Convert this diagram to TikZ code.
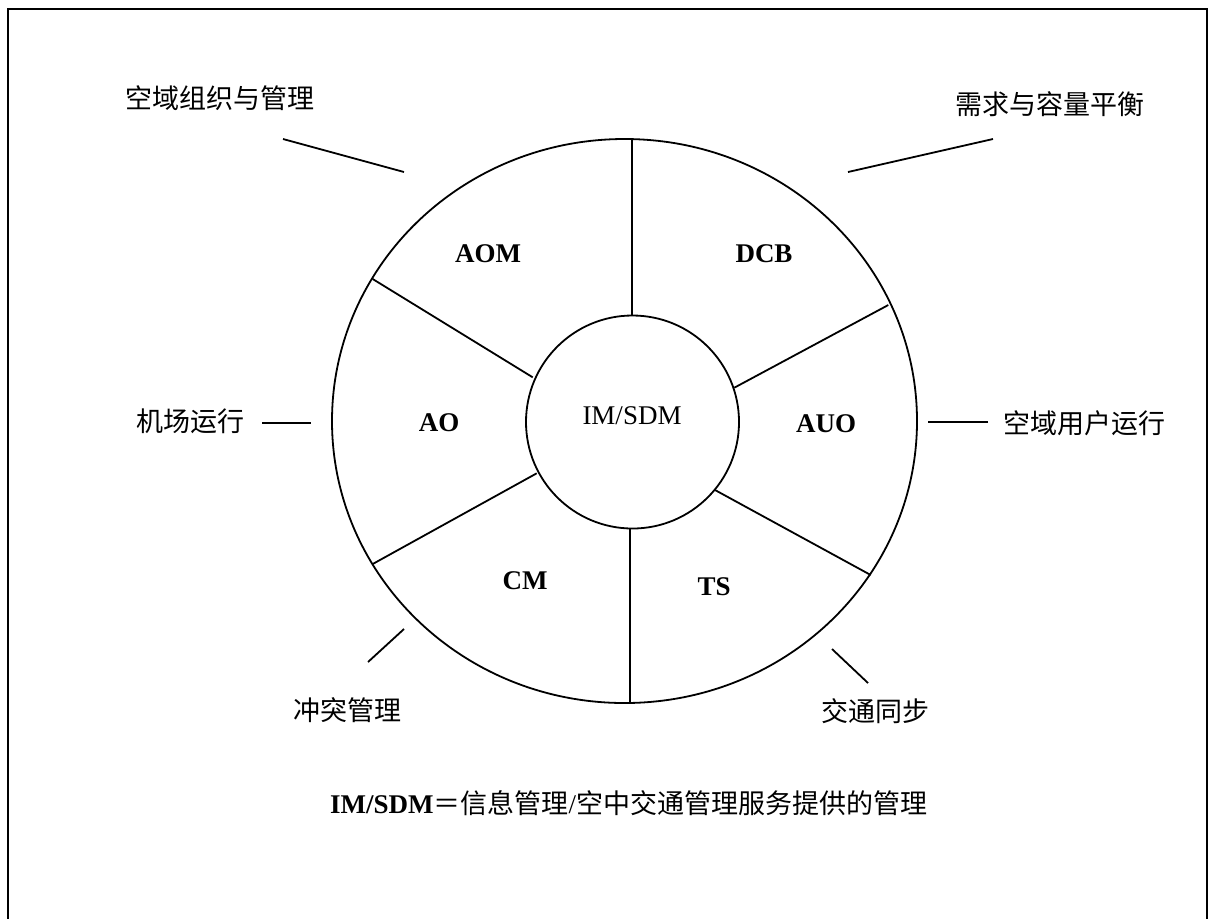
\documentclass[tikz,border=0pt]{standalone}
\usepackage{fontspec}
\setmainfont{Liberation Serif}
\newfontfamily\cjk{Noto Sans CJK SC}
\begin{document}
\begin{tikzpicture}[x=0.5pt,y=-0.5pt,
  ln/.style={line width=0.9pt, black},
  seglbl/.style={font=\fontsize{13.5}{16}\selectfont\bfseries, inner sep=0pt},
  arealbl/.style={font=\fontsize{13.5}{16}\selectfont\cjk, inner sep=0pt}]
\useasboundingbox (0,0) rectangle (1213,918);
\clip (0,0) rectangle (1213,918);
% frame
\draw[line width=1.1pt] (8,940) -- (8,9) -- (1207,9) -- (1207,940);
% outer ring
\draw[ln] (624.5,421) ellipse [x radius=146.25pt, y radius=141pt];
% core
\node[ln, draw, circle, minimum size=106.5pt, inner sep=0pt] (core) at (632.5,422) {};
\node[font=\fontsize{13.5}{16}\selectfont, inner sep=0pt] (imsdm) at (632,415.5) {IM/SDM};
% spoke ends
\coordinate (oT) at (632,139);   \coordinate (iT) at (632,315.5);
\coordinate (oUL) at (372.7,279); \coordinate (iUL) at (532.7,377.3);
\coordinate (oLL) at (372.7,564); \coordinate (iLL) at (536.7,473.3);
\coordinate (oUR) at (888.3,305); \coordinate (iUR) at (734.3,387.7);
\coordinate (oLR) at (870.7,575); \coordinate (iLR) at (715,490);
\coordinate (oB) at (630,703);   \coordinate (iB) at (630,528.5);
\draw[ln] (oT) -- (iT);
\draw[ln] (oUL) -- (iUL);
\draw[ln] (oLL) -- (iLL);
\draw[ln] (oUR) -- (iUR);
\draw[ln] (oLR) -- (iLR);
\draw[ln] (oB) -- (iB);
% segment labels
\node[seglbl] (aom) at (488,254) {AOM};
\node[seglbl] (dcb) at (764,254) {DCB};
\node[seglbl] (ao) at (439,422.5) {AO};
\node[seglbl] (auo) at (826,424) {AUO};
\node[seglbl] (cm) at (525,581) {CM};
\node[seglbl] (ts) at (714,587) {TS};
% area labels
\node[arealbl] (l1) at (219.7,98.5) {空域组织与管理};
\node[arealbl] (l2) at (1049.5,104) {需求与容量平衡};
\node[arealbl] (l3) at (190,421) {机场运行};
\node[arealbl] (l4) at (1084,423) {空域用户运行};
\node[arealbl] (l5) at (347,710) {冲突管理};
\node[arealbl] (l6) at (875,711) {交通同步};
% pointer lines
\coordinate (p1a) at (283,139); \coordinate (p1b) at (404,172);
\coordinate (p2a) at (993,139); \coordinate (p2b) at (848,172);
\coordinate (p3a) at (262,423); \coordinate (p3b) at (311,423);
\coordinate (p4a) at (988,422); \coordinate (p4b) at (928,422);
\coordinate (p5a) at (368,662); \coordinate (p5b) at (404,629);
\coordinate (p6a) at (868,683); \coordinate (p6b) at (832,649);
\draw[ln] (p1a) -- (p1b);
\draw[ln] (p2a) -- (p2b);
\draw[ln] (p3a) -- (p3b);
\draw[ln] (p4a) -- (p4b);
\draw[ln] (p5a) -- (p5b);
\draw[ln] (p6a) -- (p6b);
% caption
\node[font=\fontsize{13.5}{16}\selectfont, inner sep=0pt] (cap) at (628.5,803)
  {\textbf{IM/SDM}{\cjk ＝信息管理}/{\cjk 空中交通管理服务提供的管理}};
\end{tikzpicture}
\end{document}
